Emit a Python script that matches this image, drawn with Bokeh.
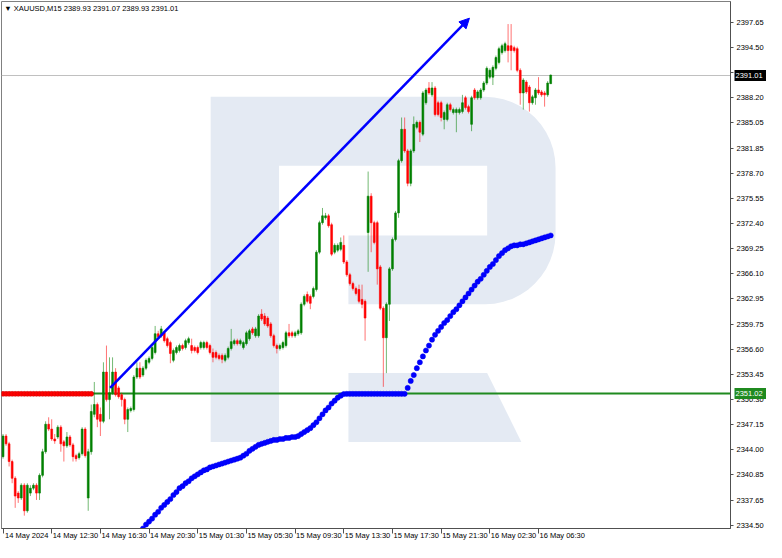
import math
from bokeh.plotting import figure
from bokeh.models import (Range1d, FixedTicker, PrintfTickFormatter, ColumnDataSource,
                          Label, Arrow, NormalHead, LinearAxis)
from bokeh.embed import file_html
from bokeh.resources import INLINE

# ---------------- data ----------------
symbol = "XAUUSD,M15"
time_ticks = [0, 16, 32, 48, 64, 80, 96, 112, 128, 144, 160, 176]
time_labels = ["14 May 2024", "14 May 12:30", "14 May 16:30", "14 May 20:30",
               "15 May 01:30", "15 May 05:30", "15 May 09:30", "15 May 13:30",
               "15 May 17:30", "15 May 21:30", "16 May 02:30", "16 May 06:30"]
price_ticks = [2397.65, 2394.50, 2391.35, 2388.20, 2385.05, 2381.85, 2378.70, 2375.55,
               2372.40, 2369.25, 2366.10, 2362.95, 2359.75, 2356.60, 2353.45, 2350.30,
               2347.15, 2344.00, 2340.85, 2337.65, 2334.50]

opens = [2343.14, 2345.73, 2344.75, 2342.53, 2340.43, 2338.57, 2337.96, 2339.56, 2336.35, 2338.57,
         2339.19, 2339.56, 2338.57, 2340.80, 2343.76, 2347.21, 2346.60, 2345.36, 2345.61, 2346.84,
         2345.00, 2344.50, 2345.61, 2344.62, 2343.27, 2343.02, 2343.51, 2346.60, 2337.96, 2343.76,
         2348.45, 2349.68, 2348.45, 2347.58, 2353.75, 2350.30, 2351.16, 2353.75, 2351.77, 2350.91,
         2350.30, 2347.83, 2348.94, 2349.06, 2353.13, 2354.24, 2353.38, 2354.24, 2354.98, 2355.47,
         2356.21, 2358.56, 2358.31, 2358.68, 2357.94, 2357.45, 2355.23, 2356.21, 2356.46, 2357.08,
         2356.83, 2357.45, 2357.08, 2356.83, 2356.83, 2356.83, 2356.83, 2357.45, 2357.08, 2356.21,
         2356.21, 2355.84, 2355.84, 2355.23, 2355.60, 2356.71, 2357.32, 2357.69, 2357.32, 2356.83,
         2357.32, 2357.94, 2359.17, 2358.31, 2358.31, 2361.02, 2360.78, 2360.53, 2359.79, 2358.31,
         2357.08, 2356.71, 2356.83, 2357.08, 2358.68, 2358.68, 2358.31, 2358.56, 2358.68, 2362.26,
         2363.49, 2363.24, 2363.24, 2364.11, 2368.79, 2372.49, 2373.11, 2373.35, 2372.24, 2368.79,
         2369.04, 2369.16, 2369.65, 2367.56, 2365.96, 2364.85, 2364.23, 2364.11, 2362.87, 2362.63,
         2371.26, 2375.82, 2372.49, 2372.49, 2366.94, 2361.76, 2358.06, 2362.26, 2366.70, 2370.39,
         2373.72, 2380.27, 2384.21, 2381.50, 2377.43, 2381.50, 2384.46, 2385.08, 2383.60, 2387.54,
         2389.39, 2388.53, 2389.39, 2387.54, 2387.54, 2385.45, 2385.45, 2387.29, 2386.31, 2386.31,
         2386.31, 2386.43, 2388.16, 2387.05, 2384.83, 2389.14, 2388.16, 2388.16, 2389.14, 2390.01,
         2390.75, 2390.75, 2391.86, 2392.60, 2393.83, 2394.08, 2394.69, 2394.69, 2394.45, 2394.32,
         2391.61, 2388.77, 2390.13, 2389.51, 2387.54, 2388.16, 2389.14, 2388.90, 2388.77, 2388.53,
         2389.93]
highs = [2345.98, 2345.98, 2345.00, 2342.77, 2340.68, 2338.82, 2339.81, 2339.81, 2339.81, 2339.56,
         2339.81, 2339.81, 2341.05, 2344.13, 2347.58, 2348.08, 2347.83, 2345.98, 2347.09, 2347.09,
         2345.24, 2346.23, 2345.86, 2344.87, 2343.51, 2343.76, 2346.84, 2346.84, 2344.13, 2349.68,
         2352.51, 2349.93, 2349.31, 2354.98, 2357.08, 2355.60, 2355.60, 2354.24, 2352.02, 2351.16,
         2350.54, 2349.31, 2349.43, 2353.38, 2354.98, 2354.98, 2354.49, 2355.47, 2355.72, 2357.08,
         2359.54, 2358.93, 2359.54, 2358.93, 2358.19, 2357.69, 2356.71, 2357.08, 2357.32, 2357.32,
         2357.94, 2358.19, 2357.94, 2357.08, 2357.08, 2357.69, 2357.69, 2357.69, 2357.32, 2356.71,
         2356.46, 2356.09, 2356.09, 2356.09, 2356.95, 2359.17, 2357.94, 2357.94, 2357.94, 2357.69,
         2358.93, 2359.17, 2359.42, 2359.42, 2361.02, 2361.64, 2361.15, 2360.78, 2360.04, 2358.56,
         2357.32, 2357.32, 2357.69, 2358.93, 2359.79, 2358.93, 2358.93, 2359.17, 2362.50, 2363.49,
         2363.86, 2363.49, 2364.48, 2369.04, 2372.74, 2374.34, 2373.72, 2373.60, 2372.49, 2369.90,
         2369.90, 2370.64, 2370.89, 2367.80, 2366.20, 2365.09, 2364.48, 2364.72, 2364.72, 2362.87,
         2378.91, 2376.19, 2372.74, 2372.74, 2367.19, 2362.01, 2362.50, 2366.94, 2370.64, 2373.97,
         2380.51, 2385.69, 2385.69, 2381.75, 2381.75, 2385.82, 2385.32, 2385.32, 2389.02, 2389.39,
         2390.13, 2390.13, 2389.64, 2387.79, 2387.79, 2386.56, 2387.54, 2387.54, 2386.93, 2386.93,
         2386.93, 2388.53, 2388.41, 2387.29, 2388.41, 2389.39, 2389.14, 2389.39, 2390.25, 2392.10,
         2391.86, 2392.23, 2393.46, 2394.57, 2394.94, 2395.19, 2397.41, 2397.41, 2394.69, 2394.57,
         2391.86, 2390.62, 2390.38, 2389.76, 2388.53, 2389.39, 2390.75, 2389.14, 2389.02, 2390.25,
         2391.07]
lows = [2342.89, 2344.50, 2341.91, 2339.81, 2336.72, 2337.34, 2337.71, 2335.74, 2336.11, 2338.20,
        2338.94, 2337.71, 2337.71, 2340.55, 2343.51, 2346.35, 2345.12, 2344.75, 2345.36, 2343.76,
        2342.53, 2344.25, 2344.38, 2342.53, 2342.53, 2342.77, 2343.27, 2343.02, 2336.35, 2343.39,
        2348.08, 2346.84, 2345.73, 2347.34, 2350.05, 2347.83, 2350.91, 2350.67, 2350.42, 2349.43,
        2347.21, 2346.23, 2348.69, 2348.81, 2352.88, 2352.88, 2353.13, 2353.99, 2354.73, 2355.23,
        2355.97, 2357.94, 2358.06, 2357.45, 2356.83, 2354.86, 2354.98, 2355.97, 2356.21, 2356.46,
        2356.58, 2357.20, 2356.09, 2356.21, 2355.97, 2356.58, 2356.58, 2356.58, 2355.97, 2354.98,
        2355.35, 2355.23, 2354.86, 2354.98, 2355.35, 2356.46, 2357.08, 2357.08, 2357.08, 2356.58,
        2357.08, 2357.69, 2358.43, 2358.06, 2358.06, 2360.16, 2359.54, 2359.30, 2358.06, 2356.83,
        2356.09, 2356.46, 2356.58, 2356.83, 2358.06, 2358.06, 2358.06, 2358.31, 2358.43, 2362.01,
        2362.38, 2361.64, 2363.00, 2363.86, 2368.54, 2372.24, 2372.86, 2371.87, 2368.30, 2368.54,
        2368.79, 2368.91, 2367.31, 2365.71, 2364.60, 2363.98, 2363.37, 2362.38, 2361.76, 2357.69,
        2366.33, 2368.79, 2369.78, 2364.72, 2361.52, 2351.90, 2353.62, 2360.16, 2366.45, 2370.15,
        2373.11, 2380.02, 2381.25, 2377.06, 2377.06, 2381.25, 2384.21, 2382.61, 2383.35, 2387.29,
        2388.53, 2388.28, 2385.82, 2385.82, 2385.20, 2384.21, 2385.20, 2386.43, 2386.06, 2383.84,
        2386.06, 2386.19, 2386.68, 2386.19, 2383.97, 2387.91, 2387.91, 2387.91, 2388.90, 2389.76,
        2390.50, 2389.76, 2391.61, 2392.35, 2393.58, 2393.83, 2392.60, 2391.61, 2393.83, 2391.36,
        2387.29, 2386.68, 2388.65, 2386.43, 2387.29, 2387.29, 2388.53, 2388.28, 2387.05, 2388.28,
        2389.93]
closes = [2345.73, 2344.75, 2342.53, 2340.43, 2338.20, 2337.96, 2339.56, 2336.35, 2339.56, 2339.19,
          2339.56, 2338.57, 2340.80, 2343.76, 2347.21, 2346.60, 2345.36, 2345.12, 2346.84, 2344.75,
          2344.50, 2345.61, 2344.62, 2343.14, 2342.89, 2343.51, 2346.60, 2343.27, 2343.76, 2348.81,
          2349.68, 2347.83, 2347.58, 2353.75, 2350.30, 2351.16, 2353.75, 2350.91, 2350.67, 2350.30,
          2347.83, 2349.06, 2349.19, 2353.13, 2354.24, 2353.13, 2354.24, 2355.23, 2355.47, 2356.83,
          2358.56, 2358.19, 2359.17, 2357.69, 2357.08, 2356.09, 2356.46, 2356.83, 2357.08, 2356.71,
          2357.69, 2357.94, 2356.46, 2356.46, 2356.21, 2357.45, 2357.45, 2356.83, 2356.21, 2355.60,
          2355.60, 2355.47, 2355.35, 2355.84, 2356.71, 2357.57, 2357.69, 2357.32, 2357.69, 2357.45,
          2358.68, 2358.93, 2358.68, 2359.17, 2360.78, 2360.41, 2359.79, 2359.54, 2358.31, 2357.08,
          2356.71, 2357.08, 2357.45, 2358.68, 2358.31, 2358.31, 2358.68, 2358.93, 2362.26, 2363.24,
          2362.63, 2362.38, 2364.23, 2368.79, 2372.49, 2373.35, 2373.35, 2372.12, 2368.54, 2369.65,
          2369.65, 2370.02, 2367.56, 2365.96, 2364.85, 2364.23, 2363.61, 2362.63, 2362.26, 2360.53,
          2375.82, 2372.49, 2370.02, 2366.70, 2361.76, 2358.06, 2362.26, 2366.70, 2370.39, 2373.72,
          2380.27, 2384.21, 2381.50, 2377.43, 2381.50, 2384.83, 2385.08, 2383.84, 2388.77, 2389.14,
          2388.77, 2389.39, 2386.06, 2386.06, 2385.69, 2386.31, 2387.29, 2386.68, 2386.68, 2386.68,
          2386.68, 2387.54, 2386.93, 2386.43, 2388.16, 2388.16, 2388.90, 2389.14, 2390.01, 2391.86,
          2391.61, 2391.98, 2393.21, 2394.32, 2394.69, 2394.94, 2394.08, 2394.08, 2394.08, 2391.61,
          2388.77, 2390.38, 2388.90, 2387.54, 2388.28, 2389.14, 2388.77, 2388.53, 2388.53, 2390.01,
          2391.01]

# blue dotted indicator, one value per bar starting at bar ma_start
ma_start = 44
ma_values = [2333.27, 2333.64, 2334.13, 2334.63, 2335.00, 2335.37, 2335.86, 2336.23, 2336.72, 2337.09,
             2337.46, 2337.83, 2338.33, 2338.70, 2339.19, 2339.44, 2339.81, 2340.06, 2340.43, 2340.68,
             2340.92, 2341.17, 2341.42, 2341.54, 2341.79, 2341.91, 2342.03, 2342.16, 2342.28, 2342.40,
             2342.53, 2342.65, 2342.77, 2342.89, 2343.02, 2343.27, 2343.51, 2343.88, 2344.13, 2344.38,
             2344.62, 2344.75, 2344.87, 2345.00, 2345.12, 2345.24, 2345.24, 2345.36, 2345.36, 2345.49,
             2345.49, 2345.61, 2345.61, 2345.73, 2345.98, 2346.23, 2346.47, 2346.72, 2347.09, 2347.46,
             2347.95, 2348.45, 2348.94, 2349.31, 2349.80, 2350.17, 2350.54, 2350.79, 2351.00,
             2351.02, 2351.02, 2351.02, 2351.02, 2351.02, 2351.02, 2351.02, 2351.02, 2351.02, 2351.02,
             2351.02, 2351.02, 2351.02, 2351.02, 2351.02, 2351.02, 2351.02, 2351.02, 2351.02, 2351.02,
             2351.77, 2352.64, 2353.38, 2354.24, 2354.98, 2355.72, 2356.46, 2357.08, 2357.82, 2358.43,
             2358.93, 2359.42, 2359.91, 2360.28, 2360.78, 2361.27, 2361.64, 2362.13, 2362.63, 2363.12,
             2363.61, 2364.10, 2364.60, 2365.09, 2365.46, 2365.96, 2366.45, 2366.94, 2367.31, 2367.80,
             2368.30, 2368.67, 2369.04, 2369.28, 2369.53, 2369.65, 2369.65, 2369.78, 2369.78, 2369.90,
             2370.02, 2370.15, 2370.27, 2370.39, 2370.52, 2370.64, 2370.76, 2370.89]

support_level = 2351.02          # green horizontal line
red_level_bars = 30              # red dotted segment at the same level, first bars
trend_start = (35.2, 2351.77)    # blue arrow trend line (bar, price)
trend_end = (153.3, 2398.15)

# ---------------- styling ----------------
FONT = "Liberation Sans"
FS = "7.5px"
UP = "#008000"
DOWN = "#ff0000"
X_LO, X_HI = -0.5, 239.1
Y_LO, Y_HI = 2334.13, 2400.24
LABEL_SHIFT = 7.8   # time labels start just right of their tick (bars)

p = figure(width=766, height=542, output_backend="svg", toolbar_location=None,
           x_range=Range1d(X_LO, X_HI), y_range=Range1d(Y_LO, Y_HI),
           y_axis_location="right", min_border_left=1, min_border_top=1,
           min_border_right=0, min_border_bottom=0)
p.grid.visible = False
p.background_fill_color = "white"
p.border_fill_color = "white"
p.outline_line_color = "#808080"
p.outline_line_width = 1

# price axis
ya = p.yaxis[0]
ya.ticker = FixedTicker(ticks=price_ticks)
ya.formatter = PrintfTickFormatter(format="%.2f")
ya.major_tick_in = 0
ya.major_tick_out = 3
ya.minor_tick_line_color = None
ya.axis_line_color = "#505050"
ya.major_tick_line_color = "#505050"
ya.major_label_text_font = FONT
ya.major_label_text_font_size = FS
ya.major_label_text_color = "#000000"
ya.major_label_standoff = 3
ya.axis_label_standoff = 0

# price boxes (bid and support level): extra scales stacked after the price axis,
# whose thick inward ticks form the box and whose labels are pulled back onto it
for val, bg in ((closes[-1], "#000000"), (support_level, "#1f8a1f")):
    box = LinearAxis(ticker=FixedTicker(ticks=[val]),
                     formatter=PrintfTickFormatter(format="%.2f"),
                     axis_line_color=None, minor_tick_line_color=None,
                     major_tick_in=32, major_tick_out=0, major_tick_line_width=11,
                     major_tick_line_color=bg, major_tick_line_cap="butt",
                     major_label_standoff=-31, major_label_text_color="#ffffff",
                     major_label_text_font=FONT, major_label_text_font_size=FS,
                     axis_label_standoff=0)
    p.add_layout(box, "right")

# time axis: tick marks only (drawn outward through a negative inner length)
xa = p.xaxis[0]
xa.ticker = FixedTicker(ticks=[], minor_ticks=time_ticks)
xa.major_tick_in = 0
xa.major_tick_out = 0
xa.minor_tick_in = -5
xa.minor_tick_out = 0
xa.minor_tick_line_color = "#505050"
xa.axis_line_color = "#505050"
xa.major_label_standoff = 0
xa.axis_label_standoff = 0

# time axis: labels, placed to the right of each tick
label_pos = [t + LABEL_SHIFT for t in time_ticks]
xl = LinearAxis(ticker=FixedTicker(ticks=label_pos),
                major_label_overrides={pos: s for pos, s in zip(label_pos, time_labels)},
                axis_line_color=None, major_tick_line_color=None, minor_tick_line_color=None,
                major_tick_in=0, major_tick_out=0, major_label_standoff=2,
                major_label_text_font=FONT, major_label_text_font_size=FS,
                major_label_text_color="#000000", axis_label_standoff=0)
p.add_layout(xl, "below")

# ---------------- watermark "R" (decoration, placed relative to the frame) ----------------
def kx(px):
    return (px - 2.5) / 3.114

def py(pxy):
    return 2400.86 - 0.12333 * pxy

outer = [(215, 102), (496, 102)]
for i in range(1, 12):
    a = math.radians(90 - 90 * i / 12)
    outer.append((496 + 72 * math.cos(a), 174 - 72 * math.sin(a)))
outer.append((568, 174))
for i in range(0, 13):
    a = math.radians(-90 * i / 12)
    outer.append((496 + 72 * math.cos(a), 241 - 72 * math.sin(a)))
outer += [(356, 313), (356, 243), (498, 243), (498, 172), (285, 172), (285, 453), (215, 453)]
leg = [(356, 383), (498, 383), (533, 453), (356, 453)]
WM = "#e4eaf3"
for shape in (outer, leg):
    p.patch([kx(a) for a, b in shape], [py(b) for a, b in shape],
            fill_color=WM, line_color=None)

# horizontal lines
p.hspan(y=[closes[-1]], line_color="#c0c0c0", line_width=1)
p.hspan(y=[support_level], line_color="#1f8a1f", line_width=2)

# red dotted level
p.scatter(x=list(range(red_level_bars)), y=[support_level] * red_level_bars,
          size=5, fill_color=DOWN, line_color="#d00000", line_width=0.5)

# candles
idx = list(range(len(closes)))
colors = [UP if c >= o else DOWN for o, c in zip(opens, closes)]
src = ColumnDataSource(dict(x=idx, o=opens, h=highs, l=lows, c=closes,
                            top=[max(o, c) for o, c in zip(opens, closes)],
                            bottom=[min(o, c) for o, c in zip(opens, closes)],
                            color=colors))
p.segment(x0="x", y0="l", x1="x", y1="h", source=src, line_color="color",
          line_alpha=0.55, line_width=1)
p.vbar(x="x", top="top", bottom="bottom", width=0.6, source=src,
       fill_color="color", line_color="color", line_width=0.6)

# blue dotted indicator
ma_x = list(range(ma_start, ma_start + len(ma_values)))
p.scatter(x=ma_x, y=ma_values, size=5.2, fill_color="#0000ff", line_color="#0000ee",
          line_width=0.5)

# trend arrow
p.add_layout(Arrow(end=NormalHead(size=10, fill_color="#0000ff", line_color="#0000ff"),
                   x_start=trend_start[0], y_start=trend_start[1],
                   x_end=trend_end[0], y_end=trend_end[1],
                   line_color="#0000ff", line_width=2.5))

# header text
header = "\u25bc {}  {:.2f} {:.2f} {:.2f} {:.2f}".format(symbol, opens[-1], highs[-1],
                                                         lows[-1], closes[-1])
p.add_layout(Label(x=X_LO + 0.9, y=Y_HI - 0.3, text=header, text_font=FONT,
                   text_font_size=FS, text_color="#000000", text_baseline="top",
                   text_align="left"))

open("out.html", "w").write(file_html(p, INLINE))
